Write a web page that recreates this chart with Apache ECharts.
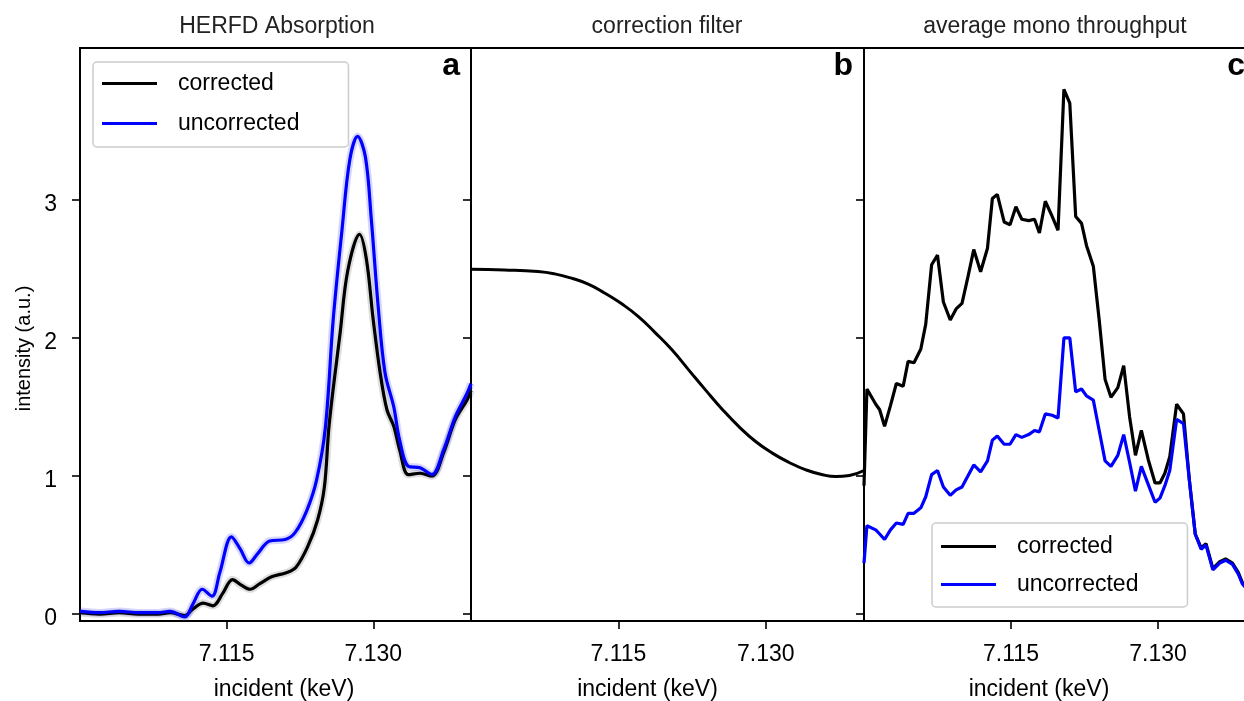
<!DOCTYPE html>
<html>
<head>
<meta charset="utf-8">
<script src="https://cdn.jsdelivr.net/npm/echarts@6/dist/echarts.min.js"></script>
<style>html,body{margin:0;padding:0;background:#fff}#chart{width:1244px;height:701px}</style>
</head>
<body>
<div id="chart"></div>
<script>
// ---------- data ----------
const panelTitles = ['HERFD Absorption', 'correction filter', 'average mono throughput'];
const panelLetters = ['a', 'b', 'c'];
const xTicks = [7.115, 7.130];
const yTicks = [0, 1, 2, 3];

// (a) HERFD absorption
const absEnergyUnc = [7.1000,7.1020,7.1040,7.1060,7.1080,7.1092,7.1107,7.1116,7.1125,7.1135,7.1143,7.1155,7.1164,7.1173,7.1182,7.1194,7.1210,7.1220,7.1232,7.1242,7.1251,7.1259,7.1268,7.1276,7.1284,7.1292,7.1298,7.1305,7.1312,7.1321,7.1327,7.1336,7.1348,7.1360,7.1372,7.1384,7.1396,7.1400];
const absUnc = [0.02,0.01,0.02,0.01,0.01,0.02,-0.02,0.08,0.18,0.13,0.30,0.56,0.47,0.37,0.44,0.53,0.54,0.59,0.75,0.97,1.35,2.13,2.78,3.29,3.46,3.31,2.86,2.23,1.75,1.50,1.26,1.07,1.06,1.01,1.19,1.43,1.60,1.67];
const absEnergyCor = [7.1000,7.1020,7.1040,7.1060,7.1080,7.1092,7.1107,7.1116,7.1126,7.1136,7.1146,7.1156,7.1165,7.1174,7.1184,7.1196,7.1211,7.1221,7.1233,7.1243,7.1250,7.1255,7.1266,7.1274,7.1286,7.1293,7.1300,7.1307,7.1314,7.1321,7.1327,7.1336,7.1348,7.1360,7.1372,7.1384,7.1396,7.1400];
const absCor = [0.01,0.00,0.01,0.00,0.00,0.01,-0.01,0.04,0.08,0.06,0.15,0.25,0.21,0.18,0.22,0.27,0.30,0.34,0.49,0.68,0.92,1.38,2.03,2.49,2.75,2.57,2.13,1.75,1.48,1.36,1.19,1.01,1.02,1.00,1.17,1.41,1.55,1.62];

// (b) correction filter
const filterEnergy = [7.10000,7.10341,7.10682,7.10852,7.11022,7.11193,7.11363,7.11534,7.11704,7.11874,7.12045,7.12215,7.12386,7.12556,7.12727,7.12897,7.13067,7.13238,7.13408,7.13579,7.13715,7.13851,7.14000];
const filterValues = [2.498,2.493,2.481,2.464,2.433,2.390,2.324,2.247,2.155,2.039,1.914,1.769,1.624,1.484,1.358,1.250,1.166,1.098,1.045,1.009,0.996,1.004,1.040];

// (c) average mono throughput
const monoEnergy = [7.1000,7.1003,7.1012,7.1016,7.1021,7.1027,7.1033,7.1040,7.1045,7.1051,7.1058,7.1063,7.1069,7.1075,7.1081,7.1088,7.1094,7.1100,7.1106,7.1112,7.1119,7.1126,7.1131,7.1136,7.1143,7.1149,7.1155,7.1161,7.1168,7.1174,7.1179,7.1185,7.1192,7.1198,7.1204,7.1210,7.1216,7.1222,7.1227,7.1234,7.1240,7.1246,7.1252,7.1259,7.1265,7.1271,7.1277,7.1283,7.1290,7.1297,7.1302,7.1307,7.1312,7.1319,7.1326,7.1332,7.1338,7.1344,7.1349,7.1356,7.1363,7.1369,7.1376,7.1382,7.1386,7.1392,7.1398];
const monoCor = [0.93,1.63,1.52,1.48,1.36,1.51,1.67,1.65,1.83,1.82,1.92,2.10,2.53,2.60,2.26,2.13,2.21,2.25,2.44,2.64,2.48,2.65,3.01,3.04,2.84,2.82,2.95,2.86,2.85,2.86,2.76,2.99,2.88,2.78,3.80,3.70,2.88,2.83,2.67,2.52,2.13,1.70,1.57,1.64,1.80,1.43,1.15,1.33,1.12,0.95,0.95,1.02,1.14,1.52,1.45,0.97,0.58,0.48,0.51,0.33,0.38,0.40,0.37,0.30,0.23,0.18,0.15];
const monoUnc = [0.37,0.64,0.61,0.58,0.54,0.61,0.66,0.65,0.73,0.73,0.77,0.85,1.01,1.04,0.92,0.86,0.90,0.92,1.00,1.08,1.03,1.11,1.26,1.29,1.23,1.23,1.30,1.28,1.30,1.33,1.32,1.45,1.44,1.42,2.00,2.00,1.61,1.63,1.58,1.55,1.33,1.11,1.07,1.15,1.30,1.10,0.89,1.07,0.94,0.81,0.84,0.93,1.04,1.41,1.38,0.97,0.58,0.47,0.50,0.32,0.37,0.39,0.36,0.29,0.22,0.17,0.14];

// ---------- chart ----------
const zip = (xs, ys) => xs.map((x, i) => [x, ys[i]]);
const FONT = "'Liberation Sans', Arial, Helvetica, sans-serif";
const FS = 23;
const grids = [
  {left: 80, top: 48, width: 391, height: 573},
  {left: 471, top: 48, width: 393, height: 573},
  {left: 864, top: 48, width: 392, height: 573}
];
const nameShift = [[0,0,0,17],[0,40,0,0],[0,42,0,0]];

const xAxes = grids.map((g, i) => ({
  type: 'value', gridIndex: i, min: 7.100, max: 7.140,
  axisLine: {show: true, onZero: false, lineStyle: {color: '#000', width: 2}},
  axisTick: {show: true, customValues: xTicks, length: 8, lineStyle: {color: '#000', width: 1.6}},
  axisLabel: {show: true, customValues: xTicks, formatter: v => v.toFixed(3), margin: 22,
              fontSize: FS, fontFamily: FONT, color: '#000'},
  splitLine: {show: false},
  name: 'incident (keV)', nameLocation: 'middle', nameGap: 57.5,
  nameTextStyle: {fontSize: FS, fontFamily: FONT, color: '#000', padding: nameShift[i]}
}));

const yAxes = grids.map((g, i) => ({
  type: 'value', gridIndex: i, min: -0.05, max: 4.1,
  axisLine: {show: true, onZero: false, lineStyle: {color: '#000', width: 2}},
  axisTick: {show: true, customValues: yTicks, length: 8, lineStyle: {color: '#000', width: 1.6}},
  axisLabel: {show: i === 0, customValues: yTicks, margin: 23, verticalAlign: 'top', lineHeight: 9,
              fontSize: FS, fontFamily: FONT, color: '#000'},
  splitLine: {show: false},
  name: i === 0 ? 'intensity (a.u.)' : '', nameLocation: 'middle', nameGap: 46, nameRotate: 90,
  nameTextStyle: {fontSize: 20, fontFamily: FONT, color: '#000', padding: [0, 28, 0, 0]}
}));

const BLUE = '#0000ff';
const line = (name, data, ai, color, extra) => Object.assign({
  type: 'line', name, data, xAxisIndex: ai, yAxisIndex: ai, showSymbol: false, symbol: 'none',
  lineStyle: {color, width: 3.2}, itemStyle: {color}, animation: false, z: 3
}, extra || {});

const series = [
  line('band-cor', zip(absEnergyCor, absCor), 0, 'rgba(0,0,0,0.12)', {smooth: 0.35, lineStyle: {color: 'rgba(0,0,0,0.13)', width: 7.5}, z: 1, silent: true}),
  line('band-unc', zip(absEnergyUnc, absUnc), 0, 'rgba(70,70,255,0.22)', {smooth: 0.35, lineStyle: {color: 'rgba(70,70,255,0.22)', width: 7.5}, z: 1, silent: true}),
  line('corrected', zip(absEnergyCor, absCor), 0, '#000', {smooth: 0.35}),
  line('uncorrected', zip(absEnergyUnc, absUnc), 0, BLUE, {smooth: 0.35}),
  line('filter', zip(filterEnergy, filterValues), 1, '#000', {smooth: 0.5, lineStyle: {color: '#000', width: 3}}),
  line('corrected', zip(monoEnergy, monoCor), 2, '#000'),
  line('uncorrected', zip(monoEnergy, monoUnc), 2, BLUE)
];

const legendBase = {
  orient: 'vertical', icon: 'rect', itemWidth: 55, itemHeight: 3,
  data: ['corrected', 'uncorrected'],
  textStyle: {fontSize: FS, fontFamily: FONT, color: '#000', lineHeight: 23, padding: [0, 0, 0, 16]},
  backgroundColor: 'rgba(255,255,255,0.85)', borderColor: '#cccccc', borderWidth: 1.5, borderRadius: 4,
  selectedMode: false
};
const legends = [
  Object.assign({}, legendBase, {left: 93, top: 62, itemGap: 17, padding: [10, 49, 12, 9]}),
  Object.assign({}, legendBase, {left: 932, top: 523, itemGap: 15, padding: [12, 49, 11, 9]})
];

const graphics = [];
panelTitles.forEach((t, i) => graphics.push({
  type: 'text', x: [277, 667, 1055][i], y: 27, z: 10,
  style: {text: t, font: `${FS}px ${FONT}`, fill: '#222', align: 'center', verticalAlign: 'middle'}
}));
panelLetters.forEach((t, i) => graphics.push({
  type: 'text', x: grids[i].left + grids[i].width - 11, y: 66, z: 10,
  style: {text: t, font: `bold 32px ${FONT}`, fill: '#000', align: 'right', verticalAlign: 'middle'}
}));

const chart = echarts.init(document.getElementById('chart'), null, {renderer: 'canvas'});
chart.setOption({
  animation: false,
  backgroundColor: '#fff',
  grid: grids.map(g => Object.assign({show: true, borderColor: '#000', borderWidth: 2, backgroundColor: 'transparent',
                                      containLabel: false, outerBoundsMode: 'none'}, g)),
  xAxis: xAxes,
  yAxis: yAxes,
  legend: legends,
  series: series,
  graphic: graphics
});
</script>
</body>
</html>
